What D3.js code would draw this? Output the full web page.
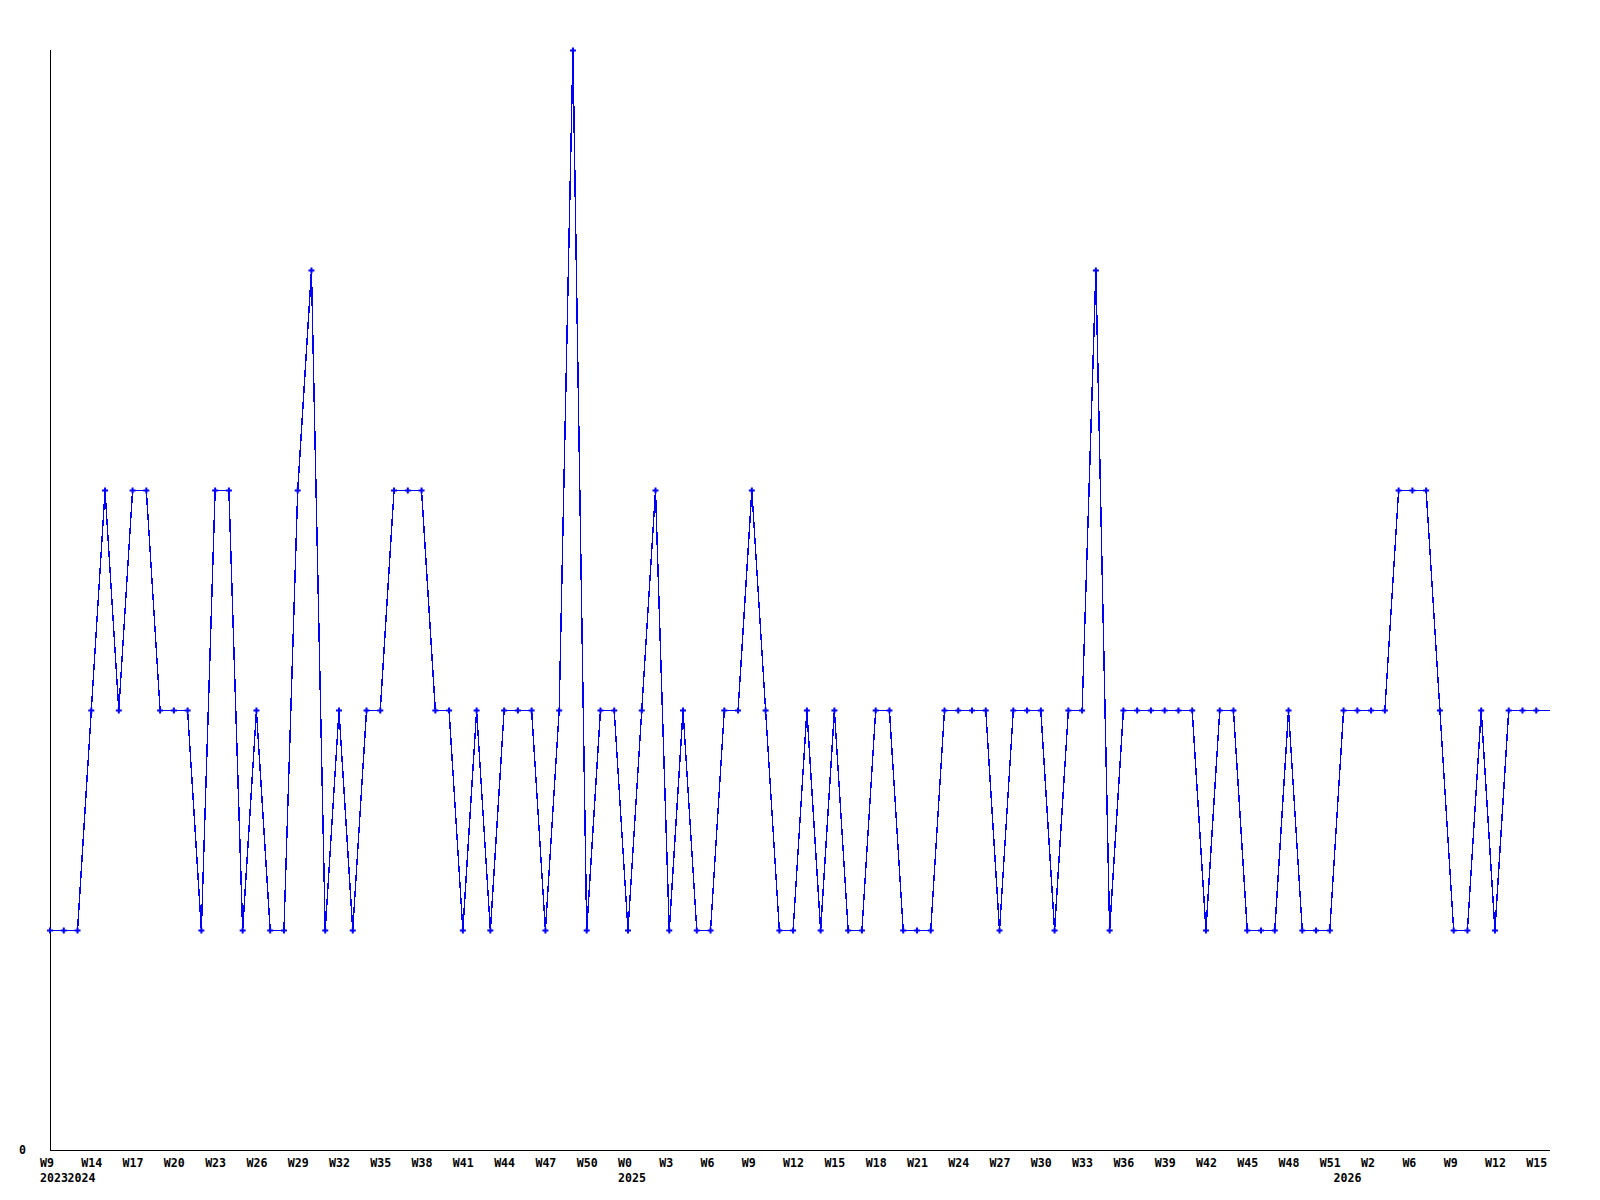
<!DOCTYPE html>
<html>
<head>
<meta charset="utf-8">
<script src="https://cdn.jsdelivr.net/npm/d3@7"></script>
<style>
  html, body { margin: 0; padding: 0; background: #ffffff; }
  svg { display: block; }
  text { font-family: "DejaVu Sans Mono", "Liberation Mono", monospace; font-weight: bold; font-size: 11.6px; fill: #000; }
</style>
</head>
<body>
<svg id="chart" width="1600" height="1200"></svg>
<script>
// ---- data ----
const weekLabels = [
  "W9","W10","W13","W14","W15","W16","W17","W18","W19","W20",
  "W21","W22","W23","W24","W25","W26","W27","W28","W29","W30",
  "W31","W32","W33","W34","W35","W36","W37","W38","W39","W40",
  "W41","W42","W43","W44","W45","W46","W47","W48","W49","W50",
  "W51","W52","W0","W1","W2","W3","W4","W5","W6","W7",
  "W8","W9","W10","W11","W12","W13","W14","W15","W16","W17",
  "W18","W19","W20","W21","W22","W23","W24","W25","W26","W27",
  "W28","W29","W30","W31","W32","W33","W34","W35","W36","W37",
  "W38","W39","W40","W41","W42","W43","W44","W45","W46","W47",
  "W48","W49","W50","W51","W0","W1","W2","W4","W5","W6",
  "W7","W8","W9","W10","W11","W12","W13","W14","W15","W16"
];
const yearLabels = ["2023","2024","2025","2026"];
const yearStartIndex = [0, 2, 42, 94];
const values = [
  1,1,1,2,3,2,3,3,2,2,
  2,1,3,3,1,2,1,1,3,4,
  1,2,1,2,2,3,3,3,2,2,
  1,2,1,2,2,2,1,2,5,1,
  2,2,1,2,3,1,2,1,1,2,
  2,3,2,1,1,2,1,2,1,1,
  2,2,1,1,1,2,2,2,2,1,
  2,2,2,1,2,2,4,1,2,2,
  2,2,2,2,1,2,2,1,1,1,
  2,1,1,1,2,2,2,2,3,3,
  3,2,1,1,2,1,2,2,2,2
];
const yTickValues = [0];

// ---- layout ----
const svg = d3.select("#chart");
const plotLeft = 50, plotRight = 1550, plotTop = 50, plotBottom = 1150;

const keys = values.map((d, i) => i);
const x = d3.scalePoint().domain(keys).range([plotLeft, plotRight]);
const y = d3.scaleLinear().domain([0, 5]).range([plotBottom, plotTop]);

// axes lines
svg.append("line").attr("x1", plotLeft + 0.5).attr("x2", plotLeft + 0.5).attr("y1", plotTop).attr("y2", plotBottom)
  .attr("stroke", "#000").attr("stroke-width", 1);
svg.append("line").attr("x1", plotLeft).attr("x2", plotRight).attr("y1", plotBottom + 0.5).attr("y2", plotBottom + 0.5)
  .attr("stroke", "#000").attr("stroke-width", 1);

// y tick labels
svg.selectAll("text.ytick").data(yTickValues).join("text")
  .attr("class", "ytick")
  .attr("x", 26).attr("y", d => y(d) + 4)
  .attr("text-anchor", "end")
  .text(d => d);

// x week labels (every third point)
svg.selectAll("text.xtick").data(keys.filter(i => i % 3 === 0)).join("text")
  .attr("class", "xtick")
  .attr("x", i => x(i) - 10)
  .attr("y", 1167)
  .text(i => weekLabels[i]);

// year labels
svg.selectAll("text.year").data(yearLabels).join("text")
  .attr("class", "year")
  .attr("x", (d, j) => x(yearStartIndex[j]) - 10)
  .attr("y", 1182)
  .text(d => d);

// line
const line = d3.line().x((d, i) => x(i)).y(d => y(d) + 0.5);
svg.append("path").datum(values)
  .attr("d", line)
  .attr("fill", "none")
  .attr("stroke", "#0000ff")
  .attr("stroke-width", 1.4)
  .attr("shape-rendering", "crispEdges");

// markers (all except the running last week)
const sym = d3.symbol().type(d3.symbolCross).size(20);
svg.selectAll("path.pt").data(values.slice(0, values.length - 1)).join("path")
  .attr("class", "pt")
  .attr("d", sym)
  .attr("transform", (d, i) => `translate(${x(i)},${y(d) + 0.5})`)
  .attr("fill", "#0000ff");
</script>
</body>
</html>
